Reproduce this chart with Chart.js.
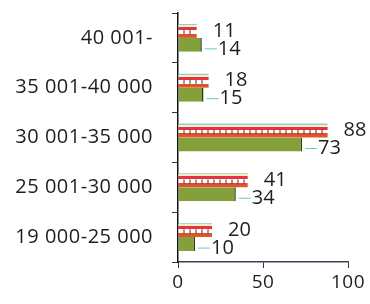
<!DOCTYPE html>
<html>
<head>
<meta charset="utf-8">
<script src="https://cdn.jsdelivr.net/npm/chart.js@4/dist/chart.umd.min.js"></script>
<style>
  html, body { margin: 0; padding: 0; background: #fff; }
  #wrap { width: 370px; height: 304px; }
</style>
</head>
<body>
<div id="wrap"><canvas id="salaryChart" width="370" height="304"></canvas></div>
<script>
// categories (top to bottom) and the two series
var categories = ['40 001-', '35 001-40 000', '30 001-35 000', '25 001-30 000', '19 000-25 000'];
var stripedValues = [11, 18, 88, 41, 20];
var greenValues = [14, 15, 73, 34, 10];
var xTicks = [0, 50, 100];

var catPct = 0.56;

// horizontal bands for the striped series, built per bar from the y scale
function stripedFill(context) {
  var chart = context.chart;
  var y = chart.scales.y;
  if (!chart.chartArea || !y) return '#e0303a';
  var center = y.getPixelForValue(context.dataIndex);
  var step = Math.abs(y.getPixelForValue(1) - y.getPixelForValue(0));
  var h = step * catPct / 2;
  var top = center - step * catPct / 2;
  var g = chart.ctx.createLinearGradient(0, top, 0, top + h);
  var stops = [
    [0, '#8fcfc8'], [0.08, '#8fcfc8'], [0.08, '#f4ecc0'], [0.22, '#f8f2d8'],
    [0.22, '#e8323e'], [0.44, '#e8323e'], [0.44, '#ffffff'], [0.7, '#ffffff'],
    [0.7, '#e0482e'], [1, '#d8602a']
  ];
  stops.forEach(function (s) { g.addColorStop(s[0], s[1]); });
  return g;
}

var ctx = document.getElementById('salaryChart').getContext('2d');

// value labels next to bar ends, plus small dark ticks in the striped bars
var valueLabels = {
  id: 'valueLabels',
  beforeDraw: function (chart) {
    chart.ctx.letterSpacing = '0.5px';
  },
  beforeDatasetsDraw: function (chart) {
    chart.ctx.letterSpacing = '0px';
  },
  afterDatasetsDraw: function (chart) {
    var c = chart.ctx;
    c.save();
    var striped = chart.getDatasetMeta(0).data;
    c.strokeStyle = '#4a2a2a';
    c.lineWidth = 1;
    striped.forEach(function (bar) {
      var top = bar.y - bar.height / 2;
      for (var x = bar.base + 5; x < bar.x - 2; x += 6) {
        c.beginPath();
        c.moveTo(x + 0.5, top + bar.height * 0.44);
        c.lineTo(x + 0.5, top + bar.height * 0.72);
        c.stroke();
      }
    });
    c.font = '20px "Open Sans"';
    c.fillStyle = '#1e1e1e';
    c.textBaseline = 'middle';
    chart.data.datasets.forEach(function (ds, di) {
      chart.getDatasetMeta(di).data.forEach(function (bar, i) {
        var x = bar.x + 16;
        var y = bar.y + (di === 0 ? 0 : 4);
        if (di === 1) {
          c.strokeStyle = '#6cc4d0';
          c.lineWidth = 1;
          c.beginPath();
          c.moveTo(bar.x + 3, y);
          c.lineTo(x - 1, y);
          c.stroke();
        }
        c.fillText(ds.data[i], x, y);
      });
    });
    c.restore();
  }
};

var salaryChart = new Chart(ctx, {
  type: 'bar',
  data: {
    labels: categories,
    datasets: [{
      data: stripedValues,
      backgroundColor: stripedFill,
      borderWidth: 0
    }, {
      data: greenValues,
      backgroundColor: '#83a03a',
      borderColor: '#2e3a14',
      borderWidth: { top: 0, bottom: 0, left: 0, right: 1.5 },
      borderSkipped: false
    }]
  },
  options: {
    indexAxis: 'y',
    responsive: false,
    animation: false,
    categoryPercentage: catPct,
    barPercentage: 1,
    layout: { padding: { top: 13, right: 22, left: 0, bottom: 0 } },
    scales: {
      x: {
        min: 0,
        max: 100,
        afterBuildTicks: function (scale) {
          scale.ticks = xTicks.map(function (v) { return { value: v }; });
        },
        afterFit: function (scale) { scale.height = 42; },
        border: { color: '#3a3f55', width: 1.5 },
        grid: { drawOnChartArea: false, color: '#333', tickLength: 6 },
        ticks: { color: '#1e1e1e', font: { family: 'Open Sans', size: 19 }, padding: 3, maxRotation: 0 }
      },
      y: {
        afterFit: function (scale) {
          scale.width = 178;
          scale.paddingTop = 0;
          scale.paddingBottom = 0;
        },
        border: { color: '#111', width: 1.5 },
        grid: { drawOnChartArea: false, offset: true, color: '#333', tickLength: 6 },
        ticks: { color: '#1e1e1e', font: { family: 'Open Sans', size: 20 }, padding: 19 }
      }
    },
    plugins: {
      legend: { display: false },
      tooltip: { enabled: false }
    }
  },
  plugins: [valueLabels]
});
</script>
</body>
</html>
